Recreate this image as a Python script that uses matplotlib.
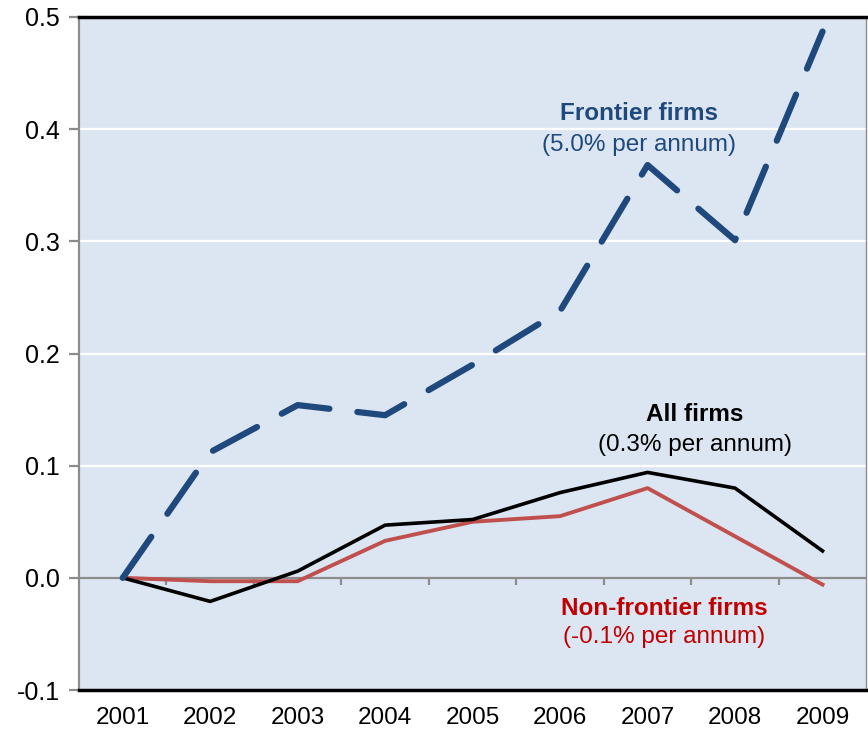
import numpy as np
import matplotlib.pyplot as plt

plt.rcParams['font.family'] = ['Liberation Sans', 'DejaVu Sans']

# Data
years = ['2001', '2002', '2003', '2004', '2005', '2006', '2007', '2008', '2009']
frontier = [0.0, 0.112, 0.154, 0.145, 0.190, 0.238, 0.368, 0.301, 0.487]
all_firms = [0.0, -0.021, 0.006, 0.047, 0.052, 0.076, 0.094, 0.080, 0.024]
non_frontier = [0.0, -0.003, -0.003, 0.033, 0.050, 0.055, 0.080, 0.037, -0.006]
yticks = [-0.1, 0.0, 0.1, 0.2, 0.3, 0.4, 0.5]
ytick_labels = ['-0.1', '0.0', '0.1', '0.2', '0.3', '0.4', '0.5']

blue = '#1F497D'
red = '#C0504D'
dark_red = '#C00000'

fig = plt.figure(figsize=(8.68, 7.38), dpi=100)
ax = fig.add_axes([0.091, 0.065, 0.907, 0.912])
ax.set_facecolor('#DCE6F2')

x = np.arange(len(years))

# gridlines
for v in yticks[2:]:
    ax.axhline(v, color='white', lw=1.6, zorder=1)

# zero axis line with category tick marks
ax.axhline(0, color='#8C8C8C', lw=1.6, zorder=2)
ax.vlines(x[:-1] + 0.5, -0.006, 0, color='#8C8C8C', lw=1.6, zorder=2)

ax.plot(x, frontier, color=blue, lw=4.5, dashes=(8, 4.5), dash_capstyle='round', zorder=4)
ax.plot(x, non_frontier, color=red, lw=2.8, zorder=3)
ax.plot(x, all_firms, color='black', lw=2.6, zorder=3)

ax.set_xlim(-0.5, 8.5)
ax.set_ylim(-0.1, 0.5)
ax.set_xticks(x)
ax.set_xticklabels(years, fontsize=17.5)
ax.tick_params(axis='x', length=0, pad=12)
ax.set_yticks(yticks)
ax.set_yticklabels(ytick_labels, fontsize=18)
ax.tick_params(axis='y', length=7, width=1.6, color='#8C8C8C', pad=7)

for side in ['top', 'bottom']:
    ax.spines[side].set_color('black')
    ax.spines[side].set_linewidth(2.5)
ax.spines['left'].set_color('#8C8C8C')
ax.spines['left'].set_linewidth(1.6)
ax.spines['right'].set_color('#8C8C8C')
ax.spines['right'].set_linewidth(1.0)

# annotations
ax.text(5.9, 0.414, 'Frontier firms', color=blue, fontsize=17.5, fontweight='bold', ha='center', va='center')
ax.text(5.9, 0.386, '(5.0% per annum)', color=blue, fontsize=17.5, ha='center', va='center')
ax.text(6.54, 0.146, 'All firms', color='black', fontsize=17.5, fontweight='bold', ha='center', va='center')
ax.text(6.54, 0.118, '(0.3% per annum)', color='black', fontsize=17.5, ha='center', va='center')
ax.text(6.19, -0.027, 'Non-frontier firms', color=dark_red, fontsize=17.5, fontweight='bold', ha='center', va='center')
ax.text(6.19, -0.053, '(-0.1% per annum)', color=dark_red, fontsize=17.5, ha='center', va='center')

fig.savefig('out.png', dpi=100)
